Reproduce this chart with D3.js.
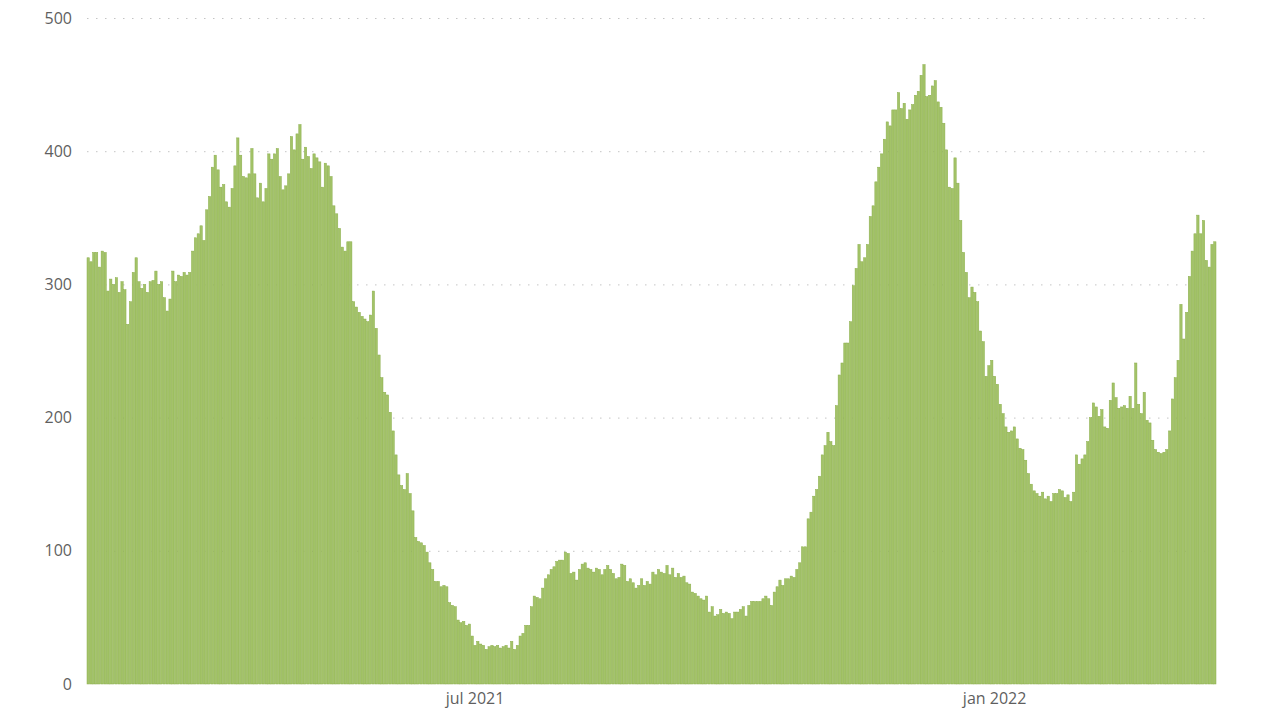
<!DOCTYPE html>
<html>
<head>
<meta charset="utf-8">
<script src="https://cdn.jsdelivr.net/npm/d3@7"></script>
<style>
  html, body { margin: 0; padding: 0; background: #fff; }
  svg { display: block; font-family: "Open Sans", "Noto Sans", sans-serif; }
</style>
</head>
<body>
<svg id="chart" width="1280" height="720"></svg>
<script>
// Daily bars, Feb 2021 – Mar 2022

const START_DATE = new Date(2021, 1, 14);

// values, one per day
const dailyValues = [
  // feb – mar 2021
  320, 317, 324, 324, 313, 325, 324, 295, 304, 300, 305, 294, 302, 296, 270, 287, 309, 320, 302, 297,
  300, 294, 302, 303, 310, 300, 302, 290, 280, 289, 310, 302, 307, 306, 309,
  // mar – apr
  307, 309, 325, 335, 338, 344, 333, 356, 366, 388, 397, 386, 373, 375, 362, 358, 372, 389, 410, 397,
  381, 380, 383, 402, 383, 365, 376, 362, 372, 398, 394, 398, 402,
  381, 371, 374, 383, 411, 401, 413, 420, 394, 403, 396, 387, 398, 395, 392, 373, 391, 389, 381, 359,
  353, 342, 328, 325, 332, 332,
  // may – jun
  287, 283, 279, 276, 274, 272, 277,
  295, 267, 247, 230, 219, 217, 204, 190, 172, 157, 149, 146, 158, 143, 130, 110, 107, 106, 104, 99,
  91, 86, 77, 77, 73, 74, 73, 61, 59, 58, 48, 46, 47, 44, 45,
  // jul – aug
  36, 29, 32, 30, 29, 26, 28, 29, 28, 29, 27, 28, 29, 27, 32, 26, 29, 36, 38, 44, 44, 58, 66, 65, 64,
  72, 79, 82, 86, 88, 92, 93, 93, 99,
  98, 83, 84, 78, 86, 90, 91, 87, 86, 84, 87, 86, 82, 86, 89, 86, 83, 79, 80, 90, 89, 77, 79, 76, 72,
  74, 79, 74, 77, 75, 84, 82, 86,
  // sep – oct
  84, 83, 89, 82, 87, 80, 83, 80, 81, 76, 75, 69, 68, 66, 64, 63, 66, 54, 58, 51, 52, 56, 53, 54, 53,
  49, 54, 54, 56, 58, 51, 59, 62,
  62, 62, 62, 64, 66, 64, 59, 69, 73, 78, 74, 79, 79, 81, 80, 86, 91, 103, 103, 124, 129, 141, 146,
  156, 172, 179, 189, 182, 179, 209, 232,
  // nov – dec
  241, 256, 256, 272, 299, 312, 330, 317, 320, 330, 351, 359, 377, 388, 398, 409, 422, 419, 431, 431,
  444, 432, 436, 424, 431, 435, 442, 445, 457, 465, 441, 442, 449, 453, 437, 433,
  421, 401, 373, 372, 395, 376, 348, 324, 309, 290, 298, 294, 287, 265, 257, 231, 239, 243, 231, 225,
  210, 203, 193, 189, 190, 193, 184, 177, 176,
  // jan – mar 2022
  168, 158, 150, 145,
  143, 141, 144, 139, 141, 137, 143, 143, 146, 145, 140, 142, 137, 144, 172, 165, 169, 172, 182, 200,
  211, 208, 201, 206, 193, 192, 213, 226, 215, 207, 208, 209, 207, 216, 207, 241,
  210, 203, 219, 198, 196, 183, 176, 174, 173, 174, 176, 190, 214, 230, 243, 285, 259, 279, 306, 325,
  338, 352, 338, 348, 318, 313, 330, 332
];

const yTicks = [0, 100, 200, 300, 400, 500];
const xTickDates = [new Date(2021, 6, 1), new Date(2022, 0, 1)];
const xTickLabels = ["jul 2021", "jan 2022"];

const dates = dailyValues.map((_, i) => d3.timeDay.offset(START_DATE, i));
const data = dates.map((d, i) => ({ date: d, value: dailyValues[i] }));

// Layout
const svg = d3.select("#chart");
const width = 1280;
const height = 720;
const margin = { top: 18, right: 64, bottom: 36, left: 87 };
const innerWidth = width - margin.left - margin.right;
const innerHeight = height - margin.top - margin.bottom;

const g = svg.append("g").attr("transform", `translate(${margin.left},${margin.top})`);

const key = (d) => d3.timeFormat("%Y-%m-%d")(d);

const x = d3
  .scaleBand()
  .domain(dates.map(key))
  .range([0, innerWidth])
  .paddingInner(0.18)
  .paddingOuter(0);

const y = d3.scaleLinear().domain([0, 500]).range([innerHeight, 0]);

// grid
g.append("g")
  .selectAll("line")
  .data(yTicks.filter((t) => t > 0))
  .join("line")
  .attr("x1", 0)
  .attr("x2", innerWidth - 5)
  .attr("y1", (d) => y(d) + 0.5)
  .attr("y2", (d) => y(d) + 0.5)
  .attr("stroke", "#c4c4c4")
  .attr("stroke-width", 1)
  .attr("stroke-dasharray", "1.5,7.5");

// bars
g.append("g")
  .selectAll("rect")
  .data(data)
  .join("rect")
  .attr("x", (d) => x(key(d.date)))
  .attr("y", (d) => y(d.value))
  .attr("width", x.bandwidth())
  .attr("height", (d) => innerHeight - y(d.value))
  .attr("fill", "#a3c368")
  .attr("stroke", "#8aad4b")
  .attr("stroke-width", 0.5);

// y axis
const yAxis = d3.axisLeft(y).tickValues(yTicks).tickSize(0).tickPadding(15);
const yAxisG = g.append("g").call(yAxis);
yAxisG.select(".domain").remove();
yAxisG
  .selectAll("text")
  .attr("fill", "#5f5f5f")
  .attr("font-size", 16)
  .attr("font-family", '"Open Sans", "Noto Sans", sans-serif');

// x axis
const xAxis = d3
  .axisBottom(x)
  .tickValues(xTickDates.map(key))
  .tickFormat((d, i) => xTickLabels[i])
  .tickSize(0)
  .tickPadding(9);
const xAxisG = g.append("g").attr("transform", `translate(0,${innerHeight})`).call(xAxis);
xAxisG.select(".domain").remove();
xAxisG
  .selectAll("text")
  .attr("fill", "#5f5f5f")
  .attr("font-size", 16)
  .attr("font-family", '"Open Sans", "Noto Sans", sans-serif');
</script>
</body>
</html>
